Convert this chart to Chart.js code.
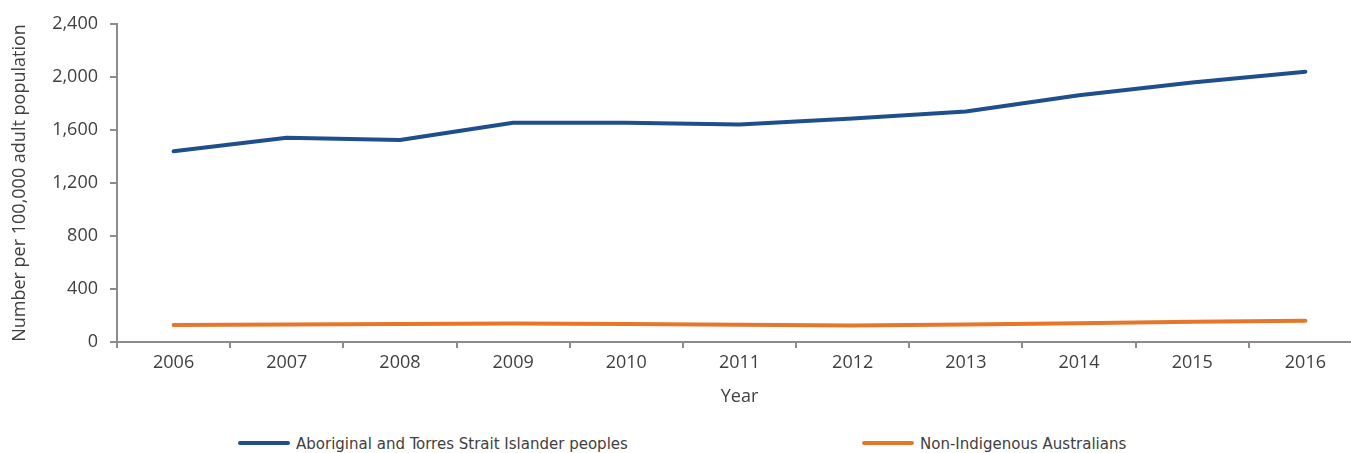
<!DOCTYPE html>
<html>
<head>
<meta charset="utf-8">
<script src="https://cdn.jsdelivr.net/npm/chart.js@4.4.1/dist/chart.umd.min.js"></script>
<style>
    html, body { margin: 0; padding: 0; background: #fff; }
    #wrap { position: relative; width: 1351px; height: 453px; overflow: hidden; }
    #chartBox { position: absolute; left: 0; top: 0; width: 1362px; height: 420px; }
    #legend { position: absolute; left: 0; top: 432px; width: 1351px; height: 22px; }
    .lg-item { position: absolute; top: 0; height: 22px; display: flex; align-items: center;
        font-family: "Liberation Sans Narrow", "DejaVu Sans Condensed", sans-serif; font-size: 16.7px; color: #404040; white-space: nowrap; }
    .lg-item:nth-child(1) { left: 238px; }
    .lg-item:nth-child(2) { left: 862px; }
    .lg-swatch { width: 52px; height: 4px; border-radius: 2px; margin-right: 6px; }
</style>
</head>
<body>
<div id="wrap">
    <div id="chartBox"><canvas id="rateChart" width="1362" height="420"></canvas></div>
    <div id="legend"></div>
</div>
<script>
// 연도 (x축)
const years = ['2006', '2007', '2008', '2009', '2010', '2011', '2012', '2013', '2014', '2015', '2016'];

// 원주민 (Aboriginal and Torres Strait Islander peoples)
const indigenousRates = [1440, 1542, 1525, 1655, 1655, 1642, 1686, 1740, 1862, 1958, 2040];

// 비원주민 (Non-Indigenous Australians)
const nonIndigenousRates = [128, 133, 135, 140, 136, 130, 125, 132, 142, 152, 160];

const seriesLabels = ['Aboriginal and Torres Strait Islander peoples', 'Non-Indigenous Australians'];
const seriesColors = ['#1e4f8c', '#e5762a'];

const axisColor = '#8c8c8c';
const textColor = '#404040';
const tickFont = { family: '"Open Sans", sans-serif', size: 18 };

const ctx = document.getElementById('rateChart');
const chart = new Chart(ctx, {
    type: 'line',
    data: {
        labels: years,
        datasets: [
            {
                label: seriesLabels[0],
                data: indigenousRates,
                borderColor: seriesColors[0],
                backgroundColor: seriesColors[0],
                borderWidth: 4,
                borderCapStyle: 'round',
                borderJoinStyle: 'round',
                pointRadius: 0,
                tension: 0
            },
            {
                label: seriesLabels[1],
                data: nonIndigenousRates,
                borderColor: seriesColors[1],
                backgroundColor: seriesColors[1],
                borderWidth: 4,
                borderCapStyle: 'round',
                borderJoinStyle: 'round',
                pointRadius: 0,
                tension: 0
            }
        ]
    },
    options: {
        responsive: false,
        animation: false,
        layout: { padding: { top: 24, right: 0, bottom: 0, left: 0 } },
        plugins: {
            legend: { display: false },
            tooltip: { enabled: false }
        },
        scales: {
            x: {
                offset: true,
                grid: {
                    offset: true,
                    drawOnChartArea: false,
                    drawTicks: true,
                    tickLength: 6,
                    color: axisColor,
                    lineWidth: 2
                },
                border: { color: axisColor, width: 2 },
                ticks: { color: textColor, font: tickFont, padding: 4, maxRotation: 0 },
                title: {
                    display: true,
                    text: 'Year',
                    color: textColor,
                    font: tickFont,
                    padding: { top: 0, bottom: 12 }
                },
                afterFit(scale) { scale.height = 78; }
            },
            y: {
                min: 0,
                max: 2400,
                grid: {
                    drawOnChartArea: false,
                    drawTicks: true,
                    tickLength: 7,
                    color: axisColor,
                    lineWidth: 2
                },
                border: { color: axisColor, width: 2 },
                ticks: { stepSize: 400, color: textColor, font: tickFont, padding: 12 },
                title: {
                    display: true,
                    text: 'Number per 100,000 adult population',
                    color: textColor,
                    font: tickFont,
                    padding: { top: 9, bottom: 0 }
                },
                afterFit(scale) { scale.width = 117; }
            }
        }
    }
});

// 범례 (HTML)
const legendEl = document.getElementById('legend');
chart.data.datasets.forEach(ds => {
    const item = document.createElement('div');
    item.className = 'lg-item';
    item.innerHTML = `<span class="lg-swatch" style="background:${ds.borderColor}"></span>${ds.label}`;
    legendEl.appendChild(item);
});
</script>
</body>
</html>
